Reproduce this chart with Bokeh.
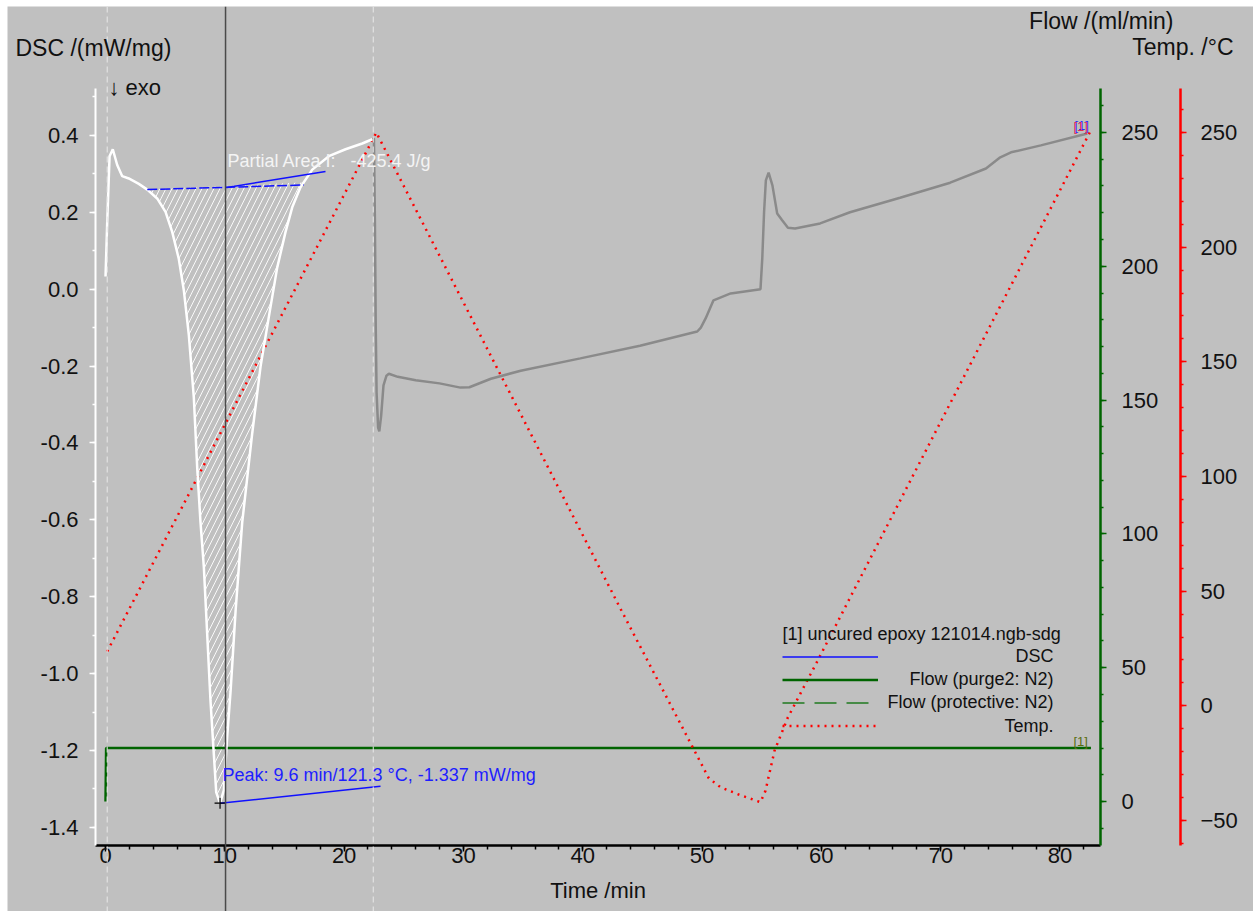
from bokeh.plotting import figure
from bokeh.models import (Range1d, LinearAxis, FixedTicker, Label, Span, Legend,
                          LegendItem, PrintfTickFormatter)
from bokeh.embed import file_html
from bokeh.resources import INLINE
import numpy as np

# ---------------- data ----------------
# DSC, first heating (white part)
dsc1_time = [0.0, 0.14, 0.34, 0.61, 0.98, 1.40, 1.95, 2.79, 3.50, 4.33, 5.03, 5.59, 6.14,
             6.56, 6.98, 7.40, 7.69, 7.96, 8.24, 8.52, 8.80, 9.08, 9.28, 9.60, 9.92, 10.20,
             10.48, 10.90, 11.46, 12.30, 13.00, 13.69, 14.39, 15.09, 15.65, 16.34, 17.33,
             18.72, 20.12, 21.52, 22.36]
dsc1 = [0.033, 0.172, 0.346, 0.364, 0.323, 0.294, 0.288, 0.274, 0.259, 0.236, 0.201, 0.149,
        0.079, -0.002, -0.118, -0.281, -0.467, -0.606, -0.722, -0.896, -1.071, -1.210,
        -1.309, -1.337, -1.303, -1.163, -1.047, -0.838, -0.606, -0.374, -0.200, -0.072,
        0.056, 0.149, 0.213, 0.265, 0.311, 0.346, 0.364, 0.379, 0.390]
# DSC, cooling and second heating (gray part)
dsc2_time = [22.36, 22.50, 22.58, 22.65, 22.72, 22.85, 22.95, 23.10, 23.30, 23.55, 23.75,
             24.5, 26.0, 28.0, 29.75, 30.5, 32.3, 34.8, 39.8, 44.8, 49.6, 49.9, 50.3, 50.96,
             52.4, 54.9, 55.05, 55.2, 55.35, 55.58, 55.9, 56.3, 56.7, 57.2, 57.8, 59.9, 62.4,
             66.6, 70.8, 73.8, 75.0, 75.9, 78.4, 82.3]
dsc2 = [0.390, 0.392, 0.178, -0.100, -0.269, -0.360, -0.370, -0.330, -0.250, -0.225, -0.220,
        -0.228, -0.237, -0.245, -0.256, -0.255, -0.233, -0.212, -0.180, -0.147, -0.110,
        -0.100, -0.076, -0.029, -0.011, 0.000, 0.080, 0.200, 0.283, 0.303, 0.270, 0.197,
        0.180, 0.160, 0.158, 0.171, 0.200, 0.238, 0.277, 0.314, 0.343, 0.356, 0.374, 0.405]

temp_time = [0.14, 22.70, 43.17, 49.26, 50.57, 51.55, 53.09, 54.34, 54.90, 55.32, 56.08,
             57.20, 59.65, 82.50]
temp = [23.7, 250.0, 42.3, -18.5, -31.6, -35.5, -38.7, -41.0, -42.0, -37.0, -19.5, -5.0,
        19.3, 250.0]

flow_time = [0.0, 0.05, 82.6]
flow_purge2 = [0.0, 20.0, 20.0]

baseline_time = [3.50, 16.62]
baseline_dsc = [0.259, 0.271]
limit_time = [10.06, 18.44]
limit_dsc = [0.264, 0.306]
peak_time = [9.6]
peak_dsc = [-1.337]
peak_line_time = [9.6, 23.05]
peak_line_dsc = [-1.337, -1.293]
cursor_time = 10.06
marker_times = [0.14, 22.44]

x_ticks = [0, 10, 20, 30, 40, 50, 60, 70, 80]
x_minor = list(range(0, 84, 2))
dsc_ticks = [-1.4, -1.2, -1.0, -0.8, -0.6, -0.4, -0.2, 0.0, 0.2, 0.4]
dsc_minor = [round(-1.4 + 0.1 * i, 1) for i in range(20)]
flow_ticks = [0, 50, 100, 150, 200, 250]
flow_minor = list(range(-10, 270, 10))
temp_ticks = [-50, 0, 50, 100, 150, 200, 250]
temp_minor = list(range(-60, 270, 10))

# visible extent of each axis
time_bounds = (-0.84, 83.4)
dsc_bounds = (-1.447, 0.522)
flow_bounds = (-16.4, 266.4)
temp_bounds = (-60.9, 269.2)

BG = "#C0C0C0"
FONT = "Liberation Sans"
TXT = "#111111"

# ---------------- geometry (pixels of the canvas) ----------------
W, H = 1246, 905
AX_L, AX_R, AX_T, AX_B = 88, 1093, 82, 839       # axis box inside the canvas
TEMP_AX = 1173                                     # x of the temperature axis

def ext(lo, hi, a, b, total):
    # range whose [lo, hi] falls on canvas pixels [a, b] of a side of length total
    s = (hi - lo) / (b - a)
    return lo - a * s, hi + (total - b) * s

xr = ext(*time_bounds, AX_L, AX_R, W)
yr = ext(*dsc_bounds, H - AX_B, H - AX_T, H)
fr = ext(*flow_bounds, H - AX_B, H - AX_T, H)
tr = ext(*temp_bounds, H - AX_B, H - AX_T, H)
temp_axis_x = time_bounds[0] + (TEMP_AX - AX_L) * (time_bounds[1] - time_bounds[0]) / (AX_R - AX_L)

p = figure(width=W, height=H, margin=(6, 0, 0, 7), x_range=Range1d(*xr),
           y_range=Range1d(*yr), output_backend="svg", toolbar_location=None,
           min_border=0, min_border_left=0, min_border_right=0, min_border_top=0,
           min_border_bottom=0,
           background_fill_color=BG, border_fill_color=BG, outline_line_color=None,
           x_axis_label="Time /min")
p.grid.visible = False
p.extra_y_ranges = {"flow": Range1d(*fr), "temp": Range1d(*tr)}

def style_axis(ax, color, tick_out=6, minor_out=3, standoff=11):
    ax.axis_line_color = color
    ax.axis_line_width = 2
    ax.major_tick_line_color = color
    ax.major_tick_line_width = 1.5
    ax.minor_tick_line_color = color
    ax.minor_tick_line_width = 1.5
    ax.major_tick_out = tick_out
    ax.major_tick_in = 0
    ax.minor_tick_out = minor_out
    ax.minor_tick_in = 0
    ax.major_label_text_font = FONT
    ax.major_label_text_font_size = "22px"
    ax.major_label_text_color = TXT
    ax.major_label_standoff = standoff

xa = p.xaxis[0]
xa.ticker = FixedTicker(ticks=x_ticks, minor_ticks=x_minor)
xa.fixed_location = dsc_bounds[0]
xa.bounds = time_bounds
style_axis(xa, "#000000", 6, 4, -4)
xa.axis_line_width = 2.5
xa.axis_label_text_font = FONT
xa.axis_label_text_font_size = "22px"
xa.axis_label_text_font_style = "normal"
xa.axis_label_text_color = TXT
xa.axis_label_standoff = 12

ya = p.yaxis[0]
ya.ticker = FixedTicker(ticks=dsc_ticks, minor_ticks=dsc_minor)
ya.formatter = PrintfTickFormatter(format="%.1f")
ya.fixed_location = time_bounds[0]
ya.bounds = dsc_bounds
style_axis(ya, "#FFFFFF", 6, 3, 11)

ax_flow = LinearAxis(y_range_name="flow", ticker=FixedTicker(ticks=flow_ticks, minor_ticks=flow_minor),
                     fixed_location=time_bounds[1], bounds=flow_bounds)
style_axis(ax_flow, "#006400", 6, 3, 15)
ax_flow.axis_line_width = 2.5
p.add_layout(ax_flow, "right")

ax_temp = LinearAxis(y_range_name="temp", ticker=FixedTicker(ticks=temp_ticks, minor_ticks=temp_minor),
                     fixed_location=temp_axis_x, bounds=temp_bounds)
style_axis(ax_temp, "#FF0000", 6, 3, 14)
ax_temp.axis_line_width = 2.5
p.add_layout(ax_temp, "right")

# vertical markers
for mt in marker_times:
    p.add_layout(Span(location=mt, dimension="height", line_color="#E8E8E8",
                      line_dash="6 4", line_width=1))
p.add_layout(Span(location=cursor_time, dimension="height", line_color="#4A4A4A", line_width=1.5))

# hatched partial area
t1 = np.array(dsc1_time)
d1 = np.array(dsc1)
inner = (t1 > baseline_time[0]) & (t1 < baseline_time[1])
area_t = [baseline_time[0]] + list(t1[inner]) + [baseline_time[1]]
area_d = [baseline_dsc[0]] + list(d1[inner]) + [float(np.interp(baseline_time[1], t1, d1))]
p.patch(area_t, area_d, fill_alpha=0, line_alpha=0, hatch_pattern="/",
        hatch_color="#FFFFFF", hatch_scale=12, hatch_weight=1, hatch_alpha=0.9)

# flow
r_flow = p.line(flow_time, flow_purge2, y_range_name="flow", line_color="#006400", line_width=2.5)
# temperature
r_temp = p.line(temp_time, temp, y_range_name="temp", line_color="#FF0000", line_width=2.5,
                line_dash="2 5")
# DSC
p.line(dsc2_time, dsc2, line_color="#8A8A8A", line_width=2.5)
p.line(dsc1_time, dsc1, line_color="#FFFFFF", line_width=2.5)

# baseline / limits / peak
p.line(baseline_time, baseline_dsc, line_color="#1010FF", line_width=1.5, line_dash="10 3")
r_limit = p.line(limit_time, limit_dsc, line_color="#1010FF", line_width=1.5)
p.line(peak_line_time, peak_line_dsc, line_color="#1010FF", line_width=1.5)
p.scatter(peak_time, peak_dsc, marker="cross", size=11, line_color="#000000", line_width=1.2)

# legend (sample lines only; texts are right-aligned labels)
r_prot = p.line(np.array([np.nan, np.nan]), np.array([np.nan, np.nan]), y_range_name="flow",
                line_color="#1F7A1F", line_width=1.5, line_dash="22 10")
legend = Legend(items=[LegendItem(label=" ", renderers=[r]) for r in (r_limit, r_flow, r_prot, r_temp)],
                location=(775, 174), orientation="vertical", padding=0, margin=0, spacing=0,
                glyph_width=96, glyph_height=23, label_height=23, label_width=0,
                label_standoff=0, label_text_font_size="6px",
                background_fill_alpha=0, border_line_alpha=0)
p.add_layout(legend)

def lab(text, x, y, size="22px", color=TXT, align="left"):
    p.add_layout(Label(x=x, y=y, x_units="screen", y_units="screen", text=text,
                       text_font=FONT, text_font_size=size, text_color=color,
                       text_align=align, text_baseline="alphabetic"))

lab("DSC /(mW/mg)", 8, 863.5, "23px")
lab("Flow /(ml/min)", 1166, 891, "23px", align="right")
lab("Temp. /\u00b0C", 1226, 864.5, "23px", align="right")
lab("\u2193 exo", 101, 824)
lab("Partial Area I:\u00a0\u00a0\u00a0-425.4 J/g", 220, 751, "18px", "#F4F4F4")
lab("Peak: 9.6 min/121.3 \u00b0C, -1.337 mW/mg", 215, 136.5, "18px", "#1E1EFF")
lab("[1] uncured epoxy 121014.ngb-sdg", 775, 277.5, "18px")
lab("DSC", 1046, 256, "18px", align="right")
lab("Flow (purge2: N2)", 1046, 232.5, "18px", align="right")
lab("Flow (protective: N2)", 1046, 209.5, "18px", align="right")
lab("Temp.", 1046, 186, "18px", align="right")
lab("[1]", 1067, 786.5, "13px", "#2030FF")
lab("[1]", 1066, 785.5, "13px", "#E03050")
lab("[1]", 1066, 170.5, "13px", "#5A6E10")

open("out.html", "w").write(file_html(p, INLINE))
